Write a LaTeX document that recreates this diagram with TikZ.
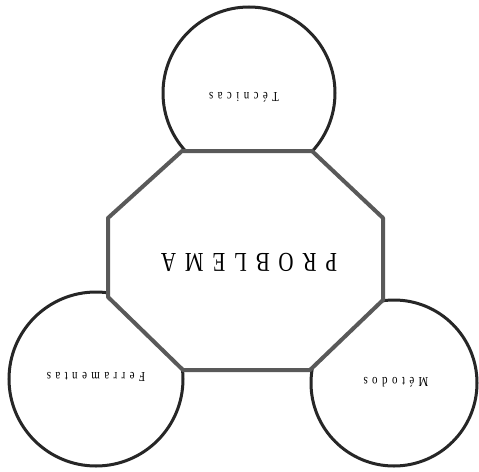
\documentclass[tikz,border=0pt]{standalone}
\usepackage{fontspec}
\setmainfont{Liberation Serif}
\begin{document}
\begin{tikzpicture}[x=1pt,y=-1pt,
  circ/.style={draw=black!85,line width=3pt,fill=white},
  oct/.style={draw=black!65,line width=4pt,fill=white,line join=round},
  lbl/.style={rotate=180,yscale=1.25,inner sep=0pt,font=\fontsize{11}{11}\selectfont\addfontfeatures{LetterSpace=40}},
  big/.style={rotate=180,yscale=1.3,inner sep=0pt,font=\fontsize{21}{21}\selectfont\addfontfeatures{LetterSpace=42}}]
\useasboundingbox (0,0) rectangle (479,471);
\fill[white] (0,0) rectangle (479,471);
\draw[circ] (249,93) circle[radius=86];
\draw[circ] (96,379) circle[radius=87];
\draw[circ] (394,383) circle[radius=83];
\draw[oct] (182,151) -- (312,151) -- (383,218) -- (383,300) -- (310,370) -- (183,370) -- (108,297) -- (108,218) -- cycle;
\node[big] (p) at (249,262) {PROBLEMA};
\node[lbl] (t) at (244,97) {Técnicas};
\node[lbl] (f) at (96,377) {Ferramentas};
\node[lbl] (m) at (396,382) {Métodos};
\end{tikzpicture}
\end{document}
